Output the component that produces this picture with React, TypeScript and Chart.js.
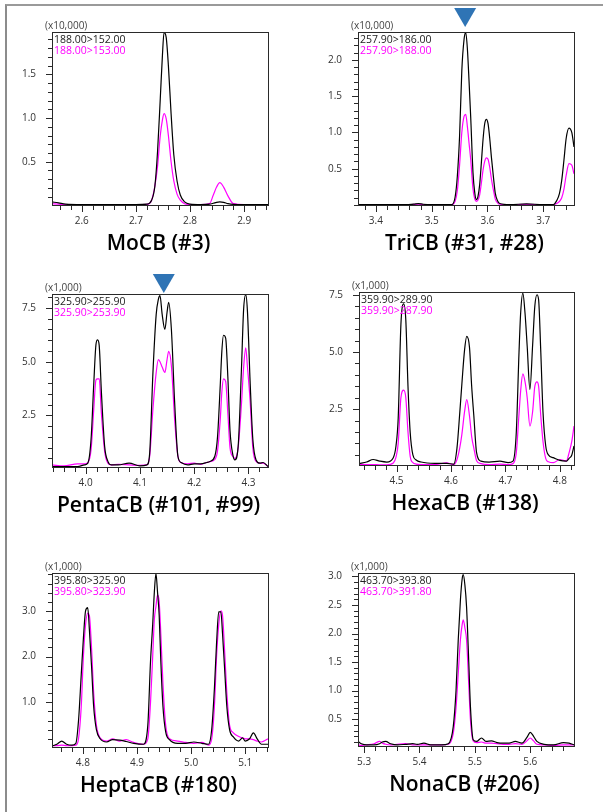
import React, { useEffect, useRef } from 'react';
import { Chart, registerables } from 'chart.js';
Chart.register(...registerables);

// ---------------- data ----------------
// MoCB (#3)  (x10,000)
const MOCB_T = [2.545, 2.557, 2.570, 2.600, 2.650, 2.700, 2.720, 2.729, 2.735, 2.740, 2.745, 2.749, 2.752, 2.756, 2.760, 2.765, 2.770, 2.776, 2.782, 2.790, 2.800, 2.820, 2.836, 2.843, 2.849, 2.855, 2.862, 2.870, 2.880, 2.900, 2.944];
const MOCB_152 = [0.04, 0.03, 0.015, 0.01, 0.01, 0.01, 0.015, 0.06, 0.22, 0.62, 1.22, 1.72, 1.98, 1.92, 1.60, 1.05, 0.58, 0.28, 0.12, 0.04, 0.015, 0.01, 0.015, 0.025, 0.035, 0.04, 0.035, 0.02, 0.012, 0.01, 0.01];
const MOCB_153 = [0.02, 0.015, 0.01, 0.01, 0.01, 0.01, 0.012, 0.06, 0.22, 0.45, 0.80, 0.98, 1.05, 0.99, 0.80, 0.50, 0.28, 0.13, 0.06, 0.02, 0.01, 0.01, 0.02, 0.12, 0.21, 0.26, 0.21, 0.11, 0.02, 0.01, 0.01];
const MOCB_XRANGE = [2.545, 2.944];
const MOCB_YRANGE = [0.005, 1.985];
const MOCB_XTICKS = [2.6, 2.7, 2.8, 2.9];
const MOCB_YTICKS = [0.5, 1.0, 1.5];

// TriCB (#31, #28)  (x10,000)
const TRICB_T = [3.368, 3.400, 3.450, 3.468, 3.476, 3.485, 3.500, 3.536, 3.542, 3.546, 3.550, 3.554, 3.558, 3.561, 3.564, 3.567, 3.570, 3.574, 3.577, 3.580, 3.583, 3.586, 3.589, 3.592, 3.595, 3.598, 3.601, 3.604, 3.607, 3.611, 3.614, 3.618, 3.622, 3.640, 3.670, 3.700, 3.718, 3.724, 3.729, 3.733, 3.737, 3.741, 3.746, 3.751, 3.755];
const TRICB_186 = [0.005, 0.005, 0.005, 0.012, 0.02, 0.01, 0.005, 0.005, 0.11, 0.40, 0.95, 1.85, 2.28, 2.38, 2.15, 1.70, 1.20, 0.45, 0.18, 0.075, 0.12, 0.28, 0.58, 0.90, 1.12, 1.18, 1.12, 0.92, 0.66, 0.36, 0.16, 0.06, 0.02, 0.005, 0.015, 0.005, 0.005, 0.06, 0.16, 0.34, 0.62, 0.92, 1.06, 1.00, 0.80];
const TRICB_188 = [0.005, 0.005, 0.005, 0.008, 0.01, 0.006, 0.005, 0.005, 0.05, 0.20, 0.55, 1.00, 1.22, 1.25, 1.08, 0.85, 0.62, 0.22, 0.09, 0.05, 0.07, 0.14, 0.30, 0.48, 0.60, 0.65, 0.63, 0.52, 0.36, 0.19, 0.08, 0.03, 0.01, 0.005, 0.008, 0.005, 0.005, 0.02, 0.05, 0.10, 0.22, 0.41, 0.57, 0.55, 0.43];
const TRICB_XRANGE = [3.368, 3.755];
const TRICB_YRANGE = [0, 2.384];
const TRICB_XTICKS = [3.4, 3.5, 3.6, 3.7];
const TRICB_YTICKS = [0.5, 1.0, 1.5, 2.0];
const TRICB_MARKER = 3.560;

// PentaCB (#101, #99)  (x1,000)
const PENTA_T = [3.938, 3.960, 3.985, 3.998, 4.004, 4.010, 4.015, 4.019, 4.022, 4.025, 4.029, 4.035, 4.041, 4.047, 4.060, 4.080, 4.100, 4.113, 4.118, 4.124, 4.130, 4.134, 4.137, 4.141, 4.146, 4.150, 4.153, 4.158, 4.164, 4.170, 4.176, 4.188, 4.200, 4.212, 4.223, 4.229, 4.238, 4.243, 4.248, 4.251, 4.254, 4.258, 4.262, 4.266, 4.271, 4.275, 4.281, 4.287, 4.291, 4.295, 4.298, 4.303, 4.308, 4.314, 4.321, 4.327, 4.336];
const PENTA_255 = [0.12, 0.12, 0.12, 0.2, 0.28, 1.4, 4.0, 5.8, 6.02, 5.75, 3.6, 1.06, 0.36, 0.2, 0.2, 0.28, 0.15, 0.2, 0.75, 4.5, 7.2, 7.9, 8.07, 7.2, 6.5, 7.3, 7.76, 6.5, 3.1, 0.6, 0.31, 0.2, 0.25, 0.25, 0.31, 0.36, 0.6, 1.5, 3.9, 5.5, 6.23, 6.1, 4.3, 1.8, 0.7, 0.43, 1.06, 4.6, 7.4, 8.12, 7.4, 4.1, 1.4, 0.43, 0.28, 0.31, 0.12];
const PENTA_253 = [0.2, 0.15, 0.25, 0.25, 0.3, 0.9, 2.8, 4.15, 4.2, 4.2, 2.6, 0.83, 0.28, 0.2, 0.22, 0.2, 0.18, 0.2, 0.6, 2.8, 4.5, 5.1, 5.0, 4.75, 4.5, 5.1, 5.48, 4.8, 2.3, 0.6, 0.3, 0.25, 0.28, 0.22, 0.31, 0.35, 0.45, 0.85, 2.3, 3.6, 4.2, 4.08, 2.6, 1.0, 0.6, 0.5, 1.0, 3.0, 4.7, 5.64, 4.8, 3.2, 1.0, 0.36, 0.28, 0.28, 0.12];
const PENTA_XRANGE = [3.938, 4.336];
const PENTA_YRANGE = [0.1, 8.15];
const PENTA_XTICKS = [4.0, 4.1, 4.2, 4.3];
const PENTA_YTICKS = [2.5, 5.0, 7.5];
const PENTA_MARKER = 4.144;

// HexaCB (#138)  (x1,000)
const HEXA_T = [4.431, 4.445, 4.457, 4.469, 4.482, 4.494, 4.499, 4.503, 4.508, 4.513, 4.517, 4.521, 4.525, 4.530, 4.536, 4.545, 4.570, 4.592, 4.605, 4.611, 4.616, 4.620, 4.625, 4.629, 4.634, 4.638, 4.642, 4.647, 4.655, 4.670, 4.690, 4.705, 4.714, 4.720, 4.725, 4.728, 4.732, 4.736, 4.740, 4.745, 4.750, 4.754, 4.758, 4.761, 4.765, 4.769, 4.774, 4.779, 4.788, 4.800, 4.812, 4.817, 4.822, 4.826];
const HEXA_289 = [0.12, 0.19, 0.3, 0.23, 0.19, 0.38, 0.9, 2.1, 6.2, 7.1, 6.4, 3.5, 1.5, 0.5, 0.28, 0.19, 0.13, 0.13, 0.1, 0.8, 2.3, 3.6, 5.1, 5.68, 5.2, 3.5, 2.2, 0.6, 0.23, 0.19, 0.23, 0.16, 0.23, 1.5, 5.0, 6.7, 7.57, 6.7, 5.25, 3.36, 5.3, 7.0, 7.5, 7.28, 5.0, 2.4, 0.9, 0.5, 0.38, 0.26, 0.23, 0.35, 0.5, 0.89];
const HEXA_287 = [0.09, 0.08, 0.08, 0.07, 0.07, 0.15, 0.4, 1.0, 3.0, 3.33, 3.0, 1.5, 0.45, 0.16, 0.1, 0.08, 0.08, 0.15, 0.08, 0.3, 0.8, 1.4, 2.4, 2.92, 2.2, 1.3, 0.8, 0.25, 0.12, 0.08, 0.1, 0.08, 0.12, 0.6, 2.3, 3.3, 4.04, 3.7, 3.0, 1.76, 2.4, 3.5, 3.69, 3.5, 2.2, 1.1, 0.35, 0.2, 0.16, 0.3, 0.23, 0.6, 1.1, 1.76];
const HEXA_XRANGE = [4.431, 4.826];
const HEXA_YRANGE = [0.06, 7.62];
const HEXA_XTICKS = [4.5, 4.6, 4.7, 4.8];
const HEXA_YTICKS = [2.5, 5.0, 7.5];

// HeptaCB (#180)  (x1,000)
const HEPTA_T = [4.743, 4.752, 4.761, 4.770, 4.780, 4.787, 4.792, 4.797, 4.801, 4.805, 4.809, 4.812, 4.816, 4.820, 4.825, 4.832, 4.844, 4.855, 4.868, 4.880, 4.894, 4.912, 4.920, 4.925, 4.929, 4.932, 4.935, 4.938, 4.941, 4.944, 4.948, 4.953, 4.960, 4.975, 4.990, 5.005, 5.020, 5.032, 5.038, 5.043, 5.047, 5.051, 5.055, 5.058, 5.062, 5.066, 5.071, 5.078, 5.088, 5.095, 5.100, 5.108, 5.115, 5.122, 5.130, 5.142];
const HEPTA_325 = [0.04, 0.08, 0.15, 0.08, 0.06, 0.1, 0.6, 1.6, 2.4, 3.0, 3.07, 2.6, 1.8, 0.9, 0.4, 0.2, 0.13, 0.18, 0.17, 0.14, 0.1, 0.08, 0.5, 1.9, 2.7, 3.4, 3.82, 3.4, 2.9, 1.9, 0.9, 0.35, 0.18, 0.1, 0.1, 0.13, 0.1, 0.08, 0.4, 1.3, 2.3, 2.98, 2.98, 2.5, 1.7, 0.9, 0.4, 0.24, 0.15, 0.22, 0.15, 0.2, 0.33, 0.2, 0.08, 0.08];
const HEPTA_323 = [0.05, 0.05, 0.06, 0.05, 0.05, 0.06, 0.2, 0.9, 2.0, 2.7, 2.95, 2.9, 2.2, 1.2, 0.5, 0.22, 0.15, 0.2, 0.15, 0.18, 0.12, 0.08, 0.2, 1.0, 2.0, 2.8, 3.1, 3.35, 3.2, 2.5, 1.4, 0.5, 0.2, 0.15, 0.12, 0.1, 0.12, 0.06, 0.2, 0.9, 2.0, 2.7, 3.0, 2.9, 2.1, 1.2, 0.5, 0.33, 0.25, 0.22, 0.2, 0.2, 0.18, 0.15, 0.13, 0.2];
const HEPTA_XRANGE = [4.743, 5.142];
const HEPTA_YRANGE = [0.02, 3.83];
const HEPTA_XTICKS = [4.8, 4.9, 5.0, 5.1];
const HEPTA_YTICKS = [1.0, 2.0, 3.0];

// NonaCB (#206)  (x1,000)
const NONA_T = [5.289, 5.295, 5.305, 5.318, 5.328, 5.333, 5.339, 5.348, 5.360, 5.375, 5.388, 5.396, 5.408, 5.420, 5.440, 5.452, 5.461, 5.466, 5.470, 5.474, 5.477, 5.479, 5.482, 5.485, 5.489, 5.492, 5.497, 5.503, 5.512, 5.520, 5.530, 5.540, 5.551, 5.562, 5.573, 5.585, 5.594, 5.600, 5.606, 5.612, 5.625, 5.642, 5.660, 5.670, 5.679];
const NONA_393 = [0.11, 0.07, 0.05, 0.05, 0.07, 0.1, 0.11, 0.07, 0.05, 0.06, 0.07, 0.06, 0.08, 0.05, 0.05, 0.07, 0.37, 1.0, 1.89, 2.6, 2.95, 3.03, 2.85, 2.47, 1.5, 0.72, 0.14, 0.11, 0.17, 0.11, 0.12, 0.09, 0.08, 0.08, 0.11, 0.08, 0.18, 0.27, 0.2, 0.11, 0.06, 0.05, 0.09, 0.08, 0.05];
const NONA_391 = [0.05, 0.04, 0.05, 0.07, 0.11, 0.08, 0.06, 0.05, 0.06, 0.07, 0.05, 0.05, 0.05, 0.05, 0.05, 0.06, 0.25, 0.7, 1.3, 1.9, 2.15, 2.24, 2.1, 1.89, 1.1, 0.49, 0.12, 0.09, 0.1, 0.08, 0.08, 0.07, 0.06, 0.06, 0.07, 0.06, 0.12, 0.17, 0.12, 0.06, 0.05, 0.04, 0.05, 0.05, 0.05];
const NONA_XRANGE = [5.289, 5.679];
const NONA_YRANGE = [0.03, 3.06];
const NONA_XTICKS = [5.3, 5.4, 5.5, 5.6];
const NONA_YTICKS = [0.5, 1.0, 1.5, 2.0, 2.5, 3.0];

const TITLES = ['MoCB (#3)', 'TriCB (#31, #28)', 'PentaCB (#101, #99)', 'HexaCB (#138)', 'HeptaCB (#180)', 'NonaCB (#206)'];
const TRANS_A = ['188.00>152.00', '257.90>186.00', '325.90>255.90', '359.90>289.90', '395.80>325.90', '463.70>393.80'];
const TRANS_B = ['188.00>153.00', '257.90>188.00', '325.90>253.90', '359.90>287.90', '395.80>323.90', '463.70>391.80'];
const UNITS = ['(x10,000)', '(x10,000)', '(x1,000)', '(x1,000)', '(x1,000)', '(x1,000)'];
const X_MINOR = [0.02, 0.02, 0.02, 0.02, 0.02, 0.02];
const Y_MINOR = [0.1, 0.1, 0.5, 0.5, 0.2, 0.1];

const PANELS = [
  { t: MOCB_T, a: MOCB_152, b: MOCB_153, xr: MOCB_XRANGE, yr: MOCB_YRANGE, xt: MOCB_XTICKS, yt: MOCB_YTICKS, marker: null as number | null },
  { t: TRICB_T, a: TRICB_186, b: TRICB_188, xr: TRICB_XRANGE, yr: TRICB_YRANGE, xt: TRICB_XTICKS, yt: TRICB_YTICKS, marker: TRICB_MARKER as number | null },
  { t: PENTA_T, a: PENTA_255, b: PENTA_253, xr: PENTA_XRANGE, yr: PENTA_YRANGE, xt: PENTA_XTICKS, yt: PENTA_YTICKS, marker: PENTA_MARKER as number | null },
  { t: HEXA_T, a: HEXA_289, b: HEXA_287, xr: HEXA_XRANGE, yr: HEXA_YRANGE, xt: HEXA_XTICKS, yt: HEXA_YTICKS, marker: null as number | null },
  { t: HEPTA_T, a: HEPTA_325, b: HEPTA_323, xr: HEPTA_XRANGE, yr: HEPTA_YRANGE, xt: HEPTA_XTICKS, yt: HEPTA_YTICKS, marker: null as number | null },
  { t: NONA_T, a: NONA_393, b: NONA_391, xr: NONA_XRANGE, yr: NONA_YRANGE, xt: NONA_XTICKS, yt: NONA_YTICKS, marker: null as number | null },
];

// ---------------- layout (page pixels of each plot box) ----------------
const BOXES = [
  { L: 52, T: 32, R: 268, B: 205, gap: 5 },
  { L: 358, T: 32, R: 574, B: 205, gap: 5 },
  { L: 52, T: 294, R: 268, B: 467, gap: 1 },
  { L: 359, T: 292, R: 574, B: 465, gap: 1 },
  { L: 52, T: 573, R: 268, B: 747, gap: 1 },
  { L: 358, T: 573, R: 574, B: 746, gap: 1 },
];
const PAD_L = 50, PAD_T = 30, PAD_R = 12, X_AXIS_H = 30, PAD_B = 30;
const FONT = '"Open Sans", "Noto Sans", sans-serif';

function stepTicks(min: number, max: number, step: number) {
  const out: number[] = [];
  for (let k = Math.ceil(min / step - 1e-9); k * step <= max + 1e-9; k++) out.push(+(k * step).toFixed(4));
  return out;
}
const isMajor = (majors: number[], v: number) => majors.some((m) => Math.abs(m - v) < 1e-6);

function PanelChart({ idx }: { idx: number }) {
  const ref = useRef<HTMLCanvasElement>(null);
  const p = PANELS[idx];
  const box = BOXES[idx];
  const w = box.R - box.L + PAD_L + PAD_R;
  const h = box.B - box.T + PAD_T + X_AXIS_H + PAD_B;

  useEffect(() => {
    const xTicks = stepTicks(p.xr[0], p.xr[1], X_MINOR[idx]);
    const yTicks = stepTicks(p.yr[0], p.yr[1], Y_MINOR[idx]);
    const decor = {
      id: 'decor' + idx,
      afterDraw(chart: any) {
        const { ctx, chartArea: ca, scales } = chart;
        const xs = scales.x, ys = scales.y;
        const left = Math.round(ca.left), top = Math.round(ca.top);
        const right = Math.round(ca.right), bottom = Math.round(ca.bottom);
        ctx.save();
        ctx.fillStyle = '#2a2a2a';
        // plot frame
        ctx.fillRect(left, top, right - left + 1, 1);
        ctx.fillRect(left, bottom, right - left + 1, 1);
        ctx.fillRect(left, top, 1, bottom - top + 1);
        ctx.fillRect(right, top, 1, bottom - top + 1);
        // tick marks
        for (const v of xTicks) {
          const x = Math.round(xs.getPixelForValue(v));
          const len = isMajor(p.xt, v) ? 6 : 4;
          ctx.fillRect(x, bottom + 1, 1, len);
        }
        for (const v of yTicks) {
          const y = Math.round(ys.getPixelForValue(v));
          const len = isMajor(p.yt, v) ? 6 : 4;
          ctx.fillRect(left - len, y, len, 1);
        }
        // unit label
        ctx.textBaseline = 'middle';
        ctx.textAlign = 'left';
        ctx.font = `10px ${FONT}`;
        ctx.fillStyle = '#444';
        ctx.fillText(UNITS[idx], ca.left - 7, ca.top - 6);
        // transition legend
        ctx.font = `10.5px ${FONT}`;
        ctx.fillStyle = '#222';
        ctx.fillText(TRANS_A[idx], ca.left + 2, ca.top + 8);
        ctx.fillStyle = '#ff00ff';
        ctx.fillText(TRANS_B[idx], ca.left + 2, ca.top + 19.5);
        // title
        ctx.font = `600 21px ${FONT}`;
        ctx.fillStyle = '#000';
        ctx.textAlign = 'center';
        ctx.fillText(TITLES[idx], (ca.left + ca.right) / 2 - 1.5, ca.bottom + 39);
        // marker triangle
        if (p.marker !== null) {
          const mx = xs.getPixelForValue(p.marker);
          const apex = ca.top - box.gap;
          ctx.fillStyle = '#2f74b5';
          ctx.beginPath();
          ctx.moveTo(mx - 11, apex - 19);
          ctx.lineTo(mx + 11, apex - 19);
          ctx.lineTo(mx, apex);
          ctx.closePath();
          ctx.fill();
        }
        ctx.restore();
      },
    };

    const chart = new Chart(ref.current!, {
      type: 'line',
      data: {
        datasets: [
          {
            label: TRANS_A[idx],
            data: p.t.map((x, i) => ({ x, y: p.a[i] })),
            borderColor: '#000000',
            borderWidth: 1.2,
            pointRadius: 0,
            cubicInterpolationMode: 'monotone',
            order: 0,
          },
          {
            label: TRANS_B[idx],
            data: p.t.map((x, i) => ({ x, y: p.b[i] })),
            borderColor: '#ff00ff',
            borderWidth: 1.2,
            pointRadius: 0,
            cubicInterpolationMode: 'monotone',
            order: 1,
          },
        ],
      },
      options: {
        animation: false,
        responsive: false,
        events: [],
        layout: { padding: { left: 0, top: PAD_T, right: PAD_R, bottom: PAD_B } },
        plugins: { legend: { display: false }, tooltip: { enabled: false }, title: { display: false } },
        scales: {
          x: {
            type: 'linear',
            min: p.xr[0],
            max: p.xr[1],
            afterBuildTicks: (s: any) => { s.ticks = xTicks.map((v) => ({ value: v })); },
            afterFit: (s: any) => { s.height = X_AXIS_H; },
            grid: { display: false },
            border: { display: false },
            ticks: {
              autoSkip: false,
              maxRotation: 0,
              padding: 2,
              color: '#333',
              font: { family: FONT, size: 10 },
              callback: (v: any) => (isMajor(p.xt, Number(v)) ? Number(v).toFixed(1) : ''),
            },
          },
          y: {
            type: 'linear',
            min: p.yr[0],
            max: p.yr[1],
            afterBuildTicks: (s: any) => { s.ticks = yTicks.map((v) => ({ value: v })); },
            afterFit: (s: any) => { s.width = PAD_L; },
            grid: { display: false },
            border: { display: false },
            ticks: {
              autoSkip: false,
              padding: 8,
              color: '#333',
              font: { family: FONT, size: 10 },
              callback: (v: any) => (isMajor(p.yt, Number(v)) ? Number(v).toFixed(1) : ''),
            },
          },
        },
      } as any,
      plugins: [decor],
    });
    return () => chart.destroy();
  }, []);

  return (
    <canvas
      ref={ref}
      width={w}
      height={h}
      style={{ position: 'absolute', left: box.L - PAD_L, top: box.T - PAD_T, width: w, height: h }}
    />
  );
}

export default function App() {
  return (
    <div style={{ position: 'absolute', left: 0, top: 0, width: 603, height: 812, overflow: 'hidden', background: '#fff' }}>
      <div
        style={{
          position: 'absolute',
          left: 5,
          top: 4,
          width: 598,
          height: 808,
          boxSizing: 'border-box',
          borderLeft: '2px solid #8c8c8c',
          borderTop: '2px solid #9a9a9a',
        }}
      />
      {PANELS.map((_, i) => (
        <PanelChart key={i} idx={i} />
      ))}
    </div>
  );
}
